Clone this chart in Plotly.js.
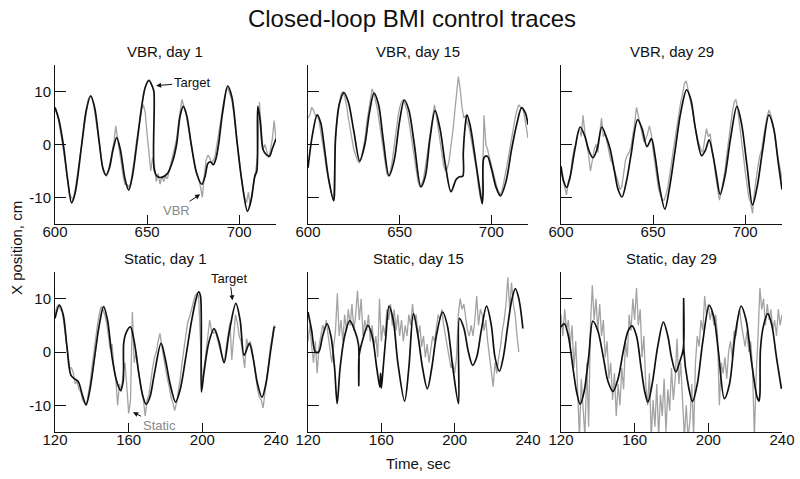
<!DOCTYPE html>
<html>
<head>
<meta charset="utf-8">
<script src="https://cdn.plot.ly/plotly-3.0.1.min.js"></script>
<style>html,body{margin:0;padding:0;background:#fff}#chart{width:800px;height:479px}</style>
</head>
<body>
<div id="chart"></div>
<script>
// ---------- DATA ----------
const panelTitles = ["VBR, day 1","VBR, day 15","VBR, day 29","Static, day 1","Static, day 15","Static, day 29"];
const topTicks = [600,650,700];
const bottomTicks = [120,160,200,240];
const yTicks = [-10,0,10];
const yTickText = ["-10","0","10"];

// Target (black) traces: key points
const p1TargetT = [600,602,604.5,607,609,611,614.5,617,619.4,621.5,624,626,627.7,629.5,631.5,633.5,635.5,638,640,642,644.4,647,649,651,652.8,653.7,653.9,655.5,658,661,664,666,668,669.7,671.5,674,677,679.7,681.5,683,684.5,686,687.5,688.8,691,693.8,696,699,701.5,704.5,706.5,708.5,709.6,710.1,711.4,713,715,716.5,718,720];
const p1TargetY = [7.0,4.8,0,-7,-11,-9,0,6.5,9.2,7,0.5,-4.5,-5.8,-4.5,-1,1.3,-1,-6.5,-8.6,-6,0,7,10.8,12.1,11,10,-4.8,-6,-6.2,-5.5,-3,0,5.5,7.2,5.5,0,-5.5,-7.5,-6,-3.6,-3.3,-3.8,-2.5,0,6,11,9,0,-7,-12.6,-10.5,-6,-5,7.2,4.5,-1,-2.0,-2.2,-0.8,1.1];

const p2TargetT = [600,602.5,605,607,608.6,611.3,614,614.4,615,617,619.6,622,625,628.2,631,633.5,636,638.5,641,644.2,647,650,652.5,655,658,661.6,664,666.5,669.3,672,675,678,680.8,682.6,684.4,684.7,685.6,686.7,688.5,691.8,693.5,695,695.5,696,697.8,700,702.5,705,708,711,714,716.5,718.5,720];
const p2TargetY = [-4.4,2,5.6,4,0.3,-6.6,-10.6,-9.5,1,7.5,9.8,8,2.5,-3.1,0,6,9.7,7.5,1,-5.9,-3,4.5,8.4,6.5,0,-8,-6,1,6.4,3,-4,-8.9,-6.6,-6.1,-6,-1.6,3,5.6,3.5,-4,-8,-11.2,-9,-2.5,-2.2,-4.5,-8,-9.7,-7,-1,4,6.9,6,3.75];

const p3TargetT = [600,601.5,603.1,605,607.5,610.4,613,615,617.3,619.5,622.2,624.5,626.7,629,631,633.1,635.5,638,641.6,644,646.7,649.1,651,653.5,656.4,659,662,665,668.2,670.5,673,676.4,678.5,680.4,682.5,684.5,686.4,689,692,695.5,698,701,704,706.5,709.5,712.9,715.5,718,720];
const p3TargetY = [-4.1,-7,-8.1,-6,-1,3.3,1.5,-1,-2.5,-1,3.3,1.5,-0.9,-5,-8.5,-9.9,-7,-2,4.7,3,-0.4,1.1,-2,-8,-12.2,-8,-1,6,10.3,8.5,3,-2.1,-1,0.9,-2,-6,-9.4,-6,1,7.2,4,-4,-11.4,-8,-1,5.6,3,-3.5,-8.5];

const p4TargetT = [120,122.4,124.5,126.4,128.7,130.9,132.7,134.8,136.9,139,141.5,144,146.4,148.5,151,153.5,155.5,157,157.3,158.5,160.9,163,165.5,167.5,169.5,171.5,174,177.6,180,182.5,185.5,188,191,194,196.5,198,199,199.5,200.9,203.6,206.4,209,211.8,214.5,218.2,220.5,222.7,225.5,227.5,230,232.4,234.5,237,239];
const p4TargetY = [6.3,8.8,6.9,1.3,-4.4,-5.1,-5.6,-8,-9.9,-7,-1,5,8.5,6,-1,-5.5,-7.2,-5.5,1.6,3.5,4.7,2,-4,-8,-9.8,-8.5,-4,1.6,-1.5,-6,-9.4,-7,-1,5.5,9.8,11.3,10.5,-7.5,-3.8,1.9,4.4,2,-2,3.5,9.1,6,-0.6,1.6,-1,-6,-8.5,-6,0,4.7];

const p5TargetT = [120,122,124,125.8,128,130.4,132.5,134.5,135.9,137.5,140,142.8,145.5,147.5,147.7,147.9,150,152.7,155,157.5,159.2,159.6,160,161,162.5,164.2,166.5,169,172.7,175,177.5,180,182.5,185.1,187.5,190,193.4,196,199,202.1,202.6,205,207.5,209.8,212,214.5,217.4,220,222,224.4,226.5,229,231,233.1,235,237.2];
const p5TargetY = [7.5,4,0,0,3,5.3,3,-3,-9.7,-3,3,5.9,4,1.5,-6.3,-0.6,2.5,5,3,-3,-6.6,-4,-6.8,-3,3,8.6,6,-2,-9.2,-3,7.2,3,-3,-6.9,-3,3,7.5,5,-3,-9.7,6.3,4.5,0,-2.5,-1,4,8.6,5,-1,-3.6,-1,5,9.5,11.9,10,4.4];

const p6TargetT = [120,121.8,124,126.5,128.5,130.4,132.5,135,137.3,140,143,145.5,148.2,151,154,156.5,158.6,161,163.5,165.5,167.2,169.5,172.5,175.6,178,180,182.3,184.3,186.4,186.6,186.8,188.5,191.4,194,197,200.5,203,205.5,208.7,211.5,214.5,217.8,220.5,223.5,226.5,227.5,228,228.3,230,232.3,234.5,237,239.7];
const p6TargetY = [4.7,5.3,3,-3,-7.5,-9.8,-7.5,-1,5.8,4,-1,-5.5,-7.4,-5,0.5,4,4.9,3,-3,-7.5,-9.4,-6,1,5.6,3,-1,-3.75,-2,0.6,10,0,-5,-9.25,-6,2,8.75,6.5,0,-8.75,-6,3,8.6,6,-2,-8.5,-9.2,-8,0.5,5,7.2,5,-1,-6.9];

// Decoder (gray) traces, sampled once per second
const p1Start = 600, p2Start = 600, p3Start = 600, p4Start = 120, p5Start = 120, p6Start = 120;
const p1Decoded = [6.5,6,4.5,2.5,0.5,-2,-4.5,-7.5,-9.5,-10,
 -10.5,-8.5,-6,-3,-1.5,1,4,6.5,8.5,9,
 8.8,7.5,5,2.5,0,-3,-4.5,-5.5,-6,-5,
 -3.5,-1.5,0.5,3.5,1,-1,-3.5,-6,-7.5,-7.5,
 -8,-7.5,-5.5,-3,0,2.5,4.5,6.5,7.5,6,
 2,-1,-5,-2.5,-4,-7,-5.5,-7.5,-6,-7,
 -6,-6.5,-5,-3.5,-2.5,-1,1,4,6.5,8.5,
 7,6,4,2,0,-2.5,-4.5,-5.5,-6.5,-8,
 -10,-6,-3,-2,-2.5,-3.5,-3,-2,0,2,
 4.5,7,9,10.5,10.5,9.5,8.5,6,3,0,
 -3,-6,-8.5,-10,-11,-9,-11.5,-9,-7,-5,
 -2,8,3,-1,0,-1.5,-2.5,-1,1,4.5,
 1];
const p2Decoded = [5,5.5,7,6.5,5.5,5.5,4.5,2.5,0.5,-2,
 -4.5,-6.5,-8,-9.5,-10,2,5,7.5,9.5,10,
 9,7.5,5,3,1,-1,-2,-3,-3.5,-2.5,
 -1,1,4,6.5,8.5,10.5,9.5,8,6.5,4,
 1.5,-1.5,-4,-5.5,-6,-5,-3,0,2.5,5,
 7,8,8.5,7.5,6.5,4.5,2,-0.5,-3,-5.5,
 -7,-8,-7.5,-6.5,-4.5,-2,0.5,3,5.5,7.5,
 5.5,3,0.5,-2,-4,-5,-4.5,-3,-0.5,2.5,
 6,9.5,12.8,10.5,7,5,5.5,4,3,1,
 -1,-3,-5,-8,-10,-10,5.5,0,-1,-2.5,
 -4,-5.5,-7,-8,-9,-9.5,-8.5,-7,-5,-3,
 -1,1.5,3.5,5,6.5,7.5,7,7,5.5,3,
 1.2];
const p3Decoded = [-5,-6.5,-8.5,-9.5,-7,-6.5,-3,-1,0,2,
 3,1.5,5.5,2,0,-2,-5,-3,-1,0,
 -1.5,2,5,1.5,2,0.5,-1,-3,-3.5,-5,
 -6,-7,-8.5,-8,-5,-3,-2,-1.5,-0.5,1.5,
 4,7,5.5,4,2,0.5,1,2,3.5,2,
 -1,-3.5,-6,-8.5,-9.5,-10.5,-10.5,-9.5,-8,-6,
 -3.5,-1,1.5,4,6.5,8,9.5,11.5,12,10.5,
 9,7,5,3,1,0,-1,-1.5,0.5,3,
 1.5,2,-1,-3,-6,-8,-10.5,-9,-7,-5,
 -2,1,3.5,6,8,8.5,6.5,4,1,-2,
 -5,-8,-10,-11,-13,-9,-6,-4,-2,-1,
 1.5,3.5,5.5,6.5,5.5,4,2,-1,-3,-5,
 -6.5];
const p4Decoded = [7,8.5,9,8,7.5,5,2.5,-1,-3,-3,
 -4,-6,-5.5,-7,-7.5,-9,-9.5,-10,-8,-6,
 -3,0,3,5,7,8.5,8,7,5.5,3,
 0.5,1.5,-3,-5,-10,-6,-7.5,-4,-2,-6.5,
 -11.5,-9,7.5,-2,0,-3,-5,-7,-9,-12,
 -9,-8,-5,-3,-1,0,2,3.5,1,-1,
 -3.5,-5,-6.5,-8.5,-9.5,-11,-9.5,-7.5,-5,-2,
 0.5,3,5.5,6.5,8,9.5,10.5,11,10.5,2,
 -6,-3,0,3,6,4,3.5,4,2.5,1,
 0,-1,-2,1,3,5.5,-1.5,3,7,5.5,
 3,2,-0.5,-3,2.5,1,2,0.5,-2,-5,
 -7,-8.5,-9,-10.5,-8,-5,-2,1,3.5,5,
 4.5];
const p5Decoded = [2,5,1,-2,2,-4,1,3,5,4,
 6,3,0,-2,1,4,11,3,6,2,
 7,4,8,5,9,4,7,11.5,6,10,
 3,6,4,7,2,5,1,3,-1,10,
 2,5,3,8,6,9,5,8,4,7,
 3,6,2,5,3,7,5,9,6,7,
 3,5,1,3,-1,1.5,-2,1,3,2,
 5,7,6,8,5,3,1,-1,-3,-2,
 -4,-1,7,10,8,9,6,4,3,5,
 3,6,10.5,5,8,7,4,6,2,-1,
 -3,-6.5,-2,-4,-1,1,4,6,9,14,
 8,13,9,7,3,0];
const p6Decoded = [7,3,8,4,6,1,5,-3,2,-8,
 -16,-5,-12,-16,-2,-14,5,12.5,6,10,
 4,9,3,6,-1,2,-5,-2,-9,-4,
 -12,-6,-10,-3,-7,2,-1,7,4,10,
 6,12,5,8,-1,3,-6,-10,-4,-16,
 -9,-14,-6,-16,-8,-12,-5,-15,-7,-11,
 -3,-9,-5,2.5,-6,-2,-9,-16,-10,-16,
 -13,-6,-16,-2,3,1,6,4,10.5,7,
 9,6,8,5,7,3,-10,-2,-4,-1,
 -5,0,2,-1,4,3,6,8,5,3,
 1,4,0,2,-3,-16,-4,3,12,8,
 10,5,9,6,8,4,6,3,8,5,
 7];

// ---------- PLOT ----------
const FONT = "Liberation Sans, Arial, Helvetica, sans-serif";
const BLACK = "#111111", GRAY = "#a3a3a3";
const panels = [
  {tt:p1TargetT, ty:p1TargetY, d:p1Decoded, s:p1Start},
  {tt:p2TargetT, ty:p2TargetY, d:p2Decoded, s:p2Start},
  {tt:p3TargetT, ty:p3TargetY, d:p3Decoded, s:p3Start},
  {tt:p4TargetT, ty:p4TargetY, d:p4Decoded, s:p4Start},
  {tt:p5TargetT, ty:p5TargetY, d:p5Decoded, s:p5Start},
  {tt:p6TargetT, ty:p6TargetY, d:p6Decoded, s:p6Start}
];
const W = 800, H = 479;
const xDom = [[55/W, 276/W],[308/W, 528/W],[561/W, 782/W]];
const yDom = [[1-224/H, 1-65/H],[1-432/H, 1-272/H]];

const traces = [];
const layout = {
  width: W, height: H,
  margin: {l:0, r:0, t:0, b:0},
  paper_bgcolor: "#fff", plot_bgcolor: "#fff",
  showlegend: false,
  font: {family: FONT, size: 15, color: BLACK},
  title: {text: "Closed-loop BMI control traces", x: 412/W, xanchor: "center",
          y: 1-19/H, yanchor: "middle", yref: "container",
          font: {family: FONT, size: 24, color: BLACK}},
  annotations: []
};

panels.forEach((p, i) => {
  const n = i + 1;
  const row = i < 3 ? 0 : 1, col = i % 3;
  const xa = n === 1 ? "x" : "x" + n, ya = n === 1 ? "y" : "y" + n;
  traces.push({type:"scatter", mode:"lines", x0:p.s, dx:1, y:p.d, xaxis:xa, yaxis:ya,
               line:{color:GRAY, width:1.3}, hoverinfo:"skip"});
  traces.push({type:"scatter", mode:"lines", x:p.tt, y:p.ty, xaxis:xa, yaxis:ya,
               line:{color:BLACK, width:1.7, shape:"spline", smoothing:0.9}, hoverinfo:"skip"});
  const xKey = n === 1 ? "xaxis" : "xaxis" + n, yKey = n === 1 ? "yaxis" : "yaxis" + n;
  layout[xKey] = {domain:xDom[col], anchor:ya, range: row === 0 ? [600,720] : [120,240],
    tickvals: row === 0 ? topTicks : bottomTicks, ticks:"inside", ticklen:9, tickwidth:1,
    tickcolor:BLACK, showline:true, linecolor:BLACK, linewidth:1, showgrid:false, zeroline:false,
    ticklabelstandoff:-6,
    tickfont:{family:FONT, size:15, color:BLACK}, fixedrange:true};
  layout[yKey] = {domain:yDom[row], anchor:xa, range:[-15,15], tickvals:yTicks, ticktext:yTickText,
    ticks:"inside", ticklen:11, tickwidth:1, tickcolor:BLACK, showline:true, linecolor:BLACK,
    linewidth:1, showgrid:false, zeroline:false, showticklabels: col === 0,
    tickfont:{family:FONT, size:15, color:BLACK}, fixedrange:true};
  layout.annotations.push({text:panelTitles[i], xref:"paper", yref:"paper",
    x:(xDom[col][0]+xDom[col][1])/2, y: row === 0 ? 1-51.5/H : 1-258/H,
    xanchor:"center", yanchor:"middle", showarrow:false, font:{family:FONT, size:15, color:BLACK}});
});

layout.annotations.push(
  {text:"X position, cm", xref:"paper", yref:"paper", x:17/W, y:1-248/H, textangle:-90,
   xanchor:"center", yanchor:"middle", showarrow:false, font:{family:FONT, size:15, color:BLACK}},
  {text:"Time, sec", xref:"paper", yref:"paper", x:418/W, y:1-463/H,
   xanchor:"center", yanchor:"middle", showarrow:false, font:{family:FONT, size:15, color:BLACK}},
  {text:"Target", xref:"x", yref:"y", x:654.9, y:11.1, ax:36, ay:-3, showarrow:true,
   arrowhead:2, arrowsize:1, arrowwidth:1, arrowcolor:BLACK, standoff:0,
   font:{family:FONT, size:13, color:BLACK}},
  {text:"VBR", xref:"x", yref:"y", x:678.8, y:-9.4, ax:-24, ay:16, showarrow:true,
   arrowhead:2, arrowsize:1, arrowwidth:1, arrowcolor:BLACK, standoff:0,
   font:{family:FONT, size:13, color:"#8a8a8a"}},
  {text:"Target", xref:"x4", yref:"y4", x:216.4, y:9.7, ax:-3, ay:-22, showarrow:true,
   arrowhead:2, arrowsize:1, arrowwidth:1, arrowcolor:BLACK, standoff:0,
   font:{family:FONT, size:13, color:BLACK}},
  {text:"Static", xref:"x4", yref:"y4", x:162.4, y:-11.3, ax:26, ay:13, showarrow:true,
   arrowhead:2, arrowsize:1, arrowwidth:1, arrowcolor:BLACK, standoff:0,
   font:{family:FONT, size:13, color:"#8a8a8a"}}
);

Plotly.newPlot("chart", traces, layout, {staticPlot:true, displayModeBar:false});
</script>
</body>
</html>
